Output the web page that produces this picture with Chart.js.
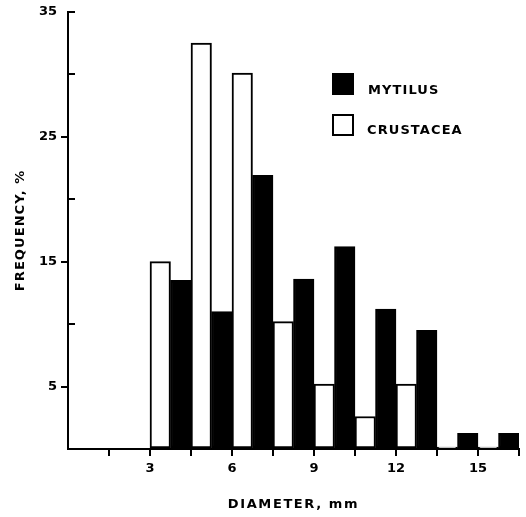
<!DOCTYPE html>
<html>
<head>
<meta charset="utf-8">
<script src="https://cdn.jsdelivr.net/npm/chart.js@4/dist/chart.umd.min.js"></script>
<style>
  html, body { margin: 0; padding: 0; background: #fff; }
  canvas { display: block; }
</style>
</head>
<body>
<canvas id="c" width="526" height="517"></canvas>
<script>
// Bin centers (mm) of 1.5 mm diameter classes
const binCenters = [3.75, 5.25, 6.75, 8.25, 9.75, 11.25, 12.75, 14.25, 15.75];
// Frequency, %
const crustacea = [15, 32.5, 30.1, 10.2, 5.2, 2.6, 5.2, 0, 0];
const mytilus   = [13.5, 11.0, 21.9, 13.6, 16.2, 11.2, 9.5, 1.25, 1.25];
const seriesNames = ['MYTILUS', 'CRUSTACEA'];
const yLabelledTicks = [5, 15, 25, 35];
const yInnerTicks = [10, 20, 30, 35];
const xLabelledTicks = [3, 6, 9, 12, 15];
const xTitle = 'DIAMETER, mm';
const yTitle = 'FREQUENCY, %';

const FONT = '"DejaVu Sans", "Liberation Sans", Arial, sans-serif';

const toPts = (vals) => vals.map((v, i) => ({ x: binCenters[i], y: v }));

const extras = {
  id: 'extras',
  afterDraw(chart) {
    const ctx = chart.ctx;
    const ys = chart.scales.y;
    const area = chart.chartArea;
    ctx.save();
    // inward ticks
    ctx.strokeStyle = '#000';
    ctx.lineWidth = 2;
    yInnerTicks.forEach(v => {
      const py = Math.round(ys.getPixelForValue(v));
      ctx.beginPath();
      ctx.moveTo(area.left, py);
      ctx.lineTo(area.left + 7, py);
      ctx.stroke();
    });
    // axis titles
    ctx.fillStyle = '#000';
    ctx.font = 'bold 13px ' + FONT;
    ctx.textAlign = 'center';
    ctx.textBaseline = 'middle';
    ctx.letterSpacing = '1.6px';
    ctx.fillText(xTitle, (area.left + area.right) / 2, 505);
    ctx.save();
    ctx.translate(21, (area.top + area.bottom) / 2);
    ctx.rotate(-Math.PI / 2);
    ctx.letterSpacing = '1.1px';
    ctx.fillText(yTitle, 0, 0);
    ctx.restore();
    // legend
    ctx.fillStyle = '#000';
    ctx.fillRect(332, 73, 22, 22);
    ctx.lineWidth = 2;
    ctx.strokeRect(333, 115, 20, 20);
    ctx.textAlign = 'left';
    ctx.letterSpacing = '1.1px';
    ctx.fillText(seriesNames[0], 368, 91);
    ctx.fillText(seriesNames[1], 367, 131);
    ctx.restore();
  }
};

new Chart(document.getElementById('c'), {
  type: 'bar',
  data: {
    datasets: [
      {
        label: seriesNames[1],
        data: toPts(crustacea),
        backgroundColor: '#fff',
        borderColor: '#000',
        borderWidth: 2,
        borderSkipped: false,
        minBarLength: 2,
        categoryPercentage: 1,
        barPercentage: 1
      },
      {
        label: seriesNames[0],
        data: toPts(mytilus),
        backgroundColor: '#000',
        borderColor: '#000',
        borderWidth: 2,
        borderSkipped: false,
        categoryPercentage: 1,
        barPercentage: 1
      }
    ]
  },
  options: {
    responsive: false,
    animation: false,
    layout: { padding: { top: 11, right: 7, left: 0, bottom: 0 } },
    plugins: { legend: { display: false }, tooltip: { enabled: false } },
    scales: {
      x: {
        type: 'linear',
        min: 0,
        max: 16.5,
        offset: false,
        afterFit(s) { s.height = 68; },
        ticks: {
          stepSize: 1.5,
          autoSkip: false,
          maxRotation: 0,
          padding: 5,
          color: '#000',
          font: { family: FONT, size: 13, weight: 'bold' },
          callback: (v) => xLabelledTicks.includes(v) ? String(v) : ''
        },
        grid: {
          offset: false,
          drawOnChartArea: false,
          drawTicks: true,
          tickLength: 7,
          lineWidth: 2,
          color: (c) => (c.tick && c.tick.value === 0) ? 'rgba(0,0,0,0)' : '#000'
        },
        border: { display: true, color: '#000', width: 2 }
      },
      y: {
        min: 0,
        max: 35,
        afterFit(s) { s.width = 68; },
        ticks: {
          stepSize: 5,
          padding: 4,
          color: '#000',
          font: { family: FONT, size: 13, weight: 'bold' },
          callback: (v) => yLabelledTicks.includes(v) ? String(v) : ''
        },
        grid: {
          drawOnChartArea: false,
          drawTicks: true,
          tickLength: 7,
          lineWidth: 2,
          color: (c) => (c.tick && yLabelledTicks.includes(c.tick.value) && c.tick.value !== 35) ? '#000' : 'rgba(0,0,0,0)'
        },
        border: { display: true, color: '#000', width: 2 }
      }
    }
  },
  plugins: [extras]
});
</script>
</body>
</html>
